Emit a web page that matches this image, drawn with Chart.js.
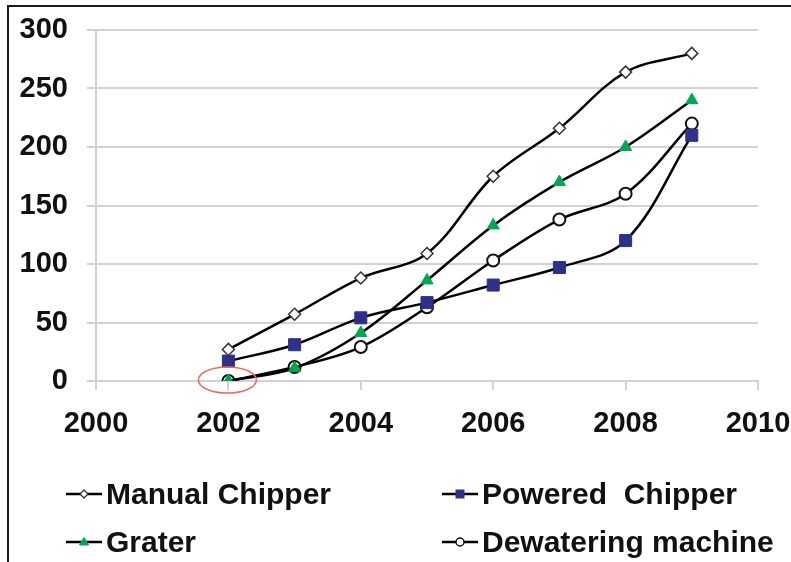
<!DOCTYPE html>
<html>
<head>
<meta charset="utf-8">
<script src="https://cdn.jsdelivr.net/npm/chart.js@4.4.0/dist/chart.umd.min.js"></script>
<style>
  html, body { margin: 0; padding: 0; background: #fff; }
  #wrap { position: relative; width: 791px; height: 562px; overflow: hidden; }
  #frame {
    position: absolute; left: 7px; top: 5px; width: 820px; height: 600px;
    border-left: 2px solid #1a1a1a; border-top: 2px solid #1a1a1a; box-sizing: border-box;
  }
  #my-chart { position: absolute; left: 0; top: 0; }
  .legend-item {
    position: absolute; height: 36px; display: flex; align-items: center;
    font: bold 30px "Liberation Sans", Arial, sans-serif; color: #111; white-space: pre;
  }
  .legend-item svg { margin-right: 4px; }
</style>
</head>
<body>
<div id="wrap">
  <div id="frame"></div>
  <canvas id="my-chart" width="791" height="562"></canvas>
  <div id="legend"></div>
</div>
<script>
// data
const years = [2002, 2003, 2004, 2005, 2006, 2007, 2008, 2009];
const manualChipper = [27, 57, 88, 109, 175, 216, 264, 280];
const poweredChipper = [17, 31, 54, 67, 82, 97, 120, 210];
const grater = [0, 11, 41, 86, 133, 170, 200, 240];
const dewateringMachine = [0, 12, 29, 63, 103, 138, 160, 220];
const seriesNames = ['Manual Chipper', 'Powered  Chipper', 'Grater', 'Dewatering machine'];
const xTicks = [2000, 2002, 2004, 2006, 2008, 2010];
const yTicks = [0, 50, 100, 150, 200, 250, 300];

const gridColor = '#d2d2d2';
const fontFamily = '"Liberation Sans", Arial, sans-serif';

const toPoints = vals => years.map((yr, i) => ({ x: yr, y: vals[i] }));

const datasets = [
  {
    label: seriesNames[0],
    data: toPoints(manualChipper),
    pointStyle: 'rectRot',
    pointRadius: 6,
    pointBackgroundColor: '#fff',
    pointBorderColor: '#333',
    pointBorderWidth: 1.5
  },
  {
    label: seriesNames[1],
    data: toPoints(poweredChipper),
    pointStyle: 'rect',
    pointRadius: 8.5,
    pointBackgroundColor: '#2e3089',
    pointBorderColor: '#2e3089',
    pointBorderWidth: 1
  },
  {
    label: seriesNames[2],
    data: toPoints(grater),
    pointStyle: 'triangle',
    pointRadius: 7,
    pointBackgroundColor: '#00a651',
    pointBorderColor: '#00a651',
    pointBorderWidth: 1
  },
  {
    label: seriesNames[3],
    data: toPoints(dewateringMachine),
    pointStyle: 'circle',
    pointRadius: 6,
    pointBackgroundColor: '#fff',
    pointBorderColor: '#111',
    pointBorderWidth: 2
  }
];
datasets.forEach(ds => {
  ds.borderColor = '#000';
  ds.borderWidth = 2.5;
  ds.tension = 0.35;
  ds.fill = false;
});

// red ring round the first zero point
const highlightPlugin = {
  id: 'highlight',
  afterDatasetsDraw(chart) {
    const ctx = chart.ctx;
    const cx = chart.scales.x.getPixelForValue(years[0]);
    const cy = chart.scales.y.getPixelForValue(grater[0]);
    ctx.save();
    ctx.beginPath();
    ctx.ellipse(cx - 1, cy - 1, 29, 13, 0, 0, Math.PI * 2);
    ctx.strokeStyle = '#e8705c';
    ctx.lineWidth = 1.6;
    ctx.stroke();
    ctx.restore();
  }
};

Chart.defaults.font.family = fontFamily;
Chart.defaults.font.weight = 'bold';
Chart.defaults.font.size = 29;
Chart.defaults.color = '#111';

const chart = new Chart(document.getElementById('my-chart').getContext('2d'), {
  type: 'line',
  data: { datasets: datasets },
  plugins: [highlightPlugin],
  options: {
    responsive: false,
    animation: false,
    layout: { padding: { left: 10, right: 33, top: 30, bottom: 121 } },
    plugins: { legend: { display: false }, tooltip: { enabled: false } },
    scales: {
      x: {
        type: 'linear',
        min: xTicks[0],
        max: xTicks[xTicks.length - 1],
        afterBuildTicks: s => { s.ticks = xTicks.map(v => ({ value: v })); },
        afterFit: s => { s.height = 60; s.paddingLeft = 0; s.paddingRight = 0; },
        ticks: { padding: 17, callback: v => String(v) },
        grid: { drawOnChartArea: false, tickLength: 9, color: gridColor, lineWidth: 2 },
        border: { color: gridColor, width: 2 }
      },
      y: {
        type: 'linear',
        min: yTicks[0],
        max: yTicks[yTicks.length - 1],
        afterBuildTicks: s => { s.ticks = yTicks.map(v => ({ value: v })); },
        afterFit: s => { s.width = 86; s.paddingTop = 0; s.paddingBottom = 0; },
        ticks: { padding: 19 },
        grid: { tickLength: 9, color: gridColor, lineWidth: 2 },
        border: { color: gridColor, width: 2 }
      }
    }
  }
});

// legend in two columns, built from the datasets
function legendSymbol(ds) {
  const fill = ds.pointBackgroundColor, stroke = ds.pointBorderColor;
  let mark = '';
  if (ds.pointStyle === 'rectRot') {
    mark = `<polygon points="18,3 22,7 18,11 14,7" fill="${fill}" stroke="${stroke}" stroke-width="1.3"/>`;
  } else if (ds.pointStyle === 'rect') {
    mark = `<rect x="14" y="3" width="8" height="8" fill="${fill}" stroke="${stroke}" stroke-width="1"/>`;
  } else if (ds.pointStyle === 'triangle') {
    mark = `<polygon points="18,2.5 22.5,10 13.5,10" fill="${fill}" stroke="${stroke}" stroke-width="1"/>`;
  } else {
    mark = `<circle cx="18" cy="7" r="4" fill="${fill}" stroke="${stroke}" stroke-width="1.5"/>`;
  }
  return `<svg width="36" height="14" viewBox="0 0 36 14"><line x1="0" y1="7" x2="36" y2="7" stroke="#000" stroke-width="2.5"/>${mark}</svg>`;
}

const legendCols = [66, 442];
const legendRows = [494, 542];
const legendEl = document.getElementById('legend');
chart.data.datasets.forEach((ds, i) => {
  const item = document.createElement('div');
  item.className = 'legend-item';
  item.style.left = legendCols[i % 2] + 'px';
  item.style.top = (legendRows[Math.floor(i / 2)] - 18) + 'px';
  item.innerHTML = legendSymbol(ds);
  const span = document.createElement('span');
  span.textContent = ds.label;
  item.appendChild(span);
  legendEl.appendChild(item);
});
</script>
</body>
</html>
